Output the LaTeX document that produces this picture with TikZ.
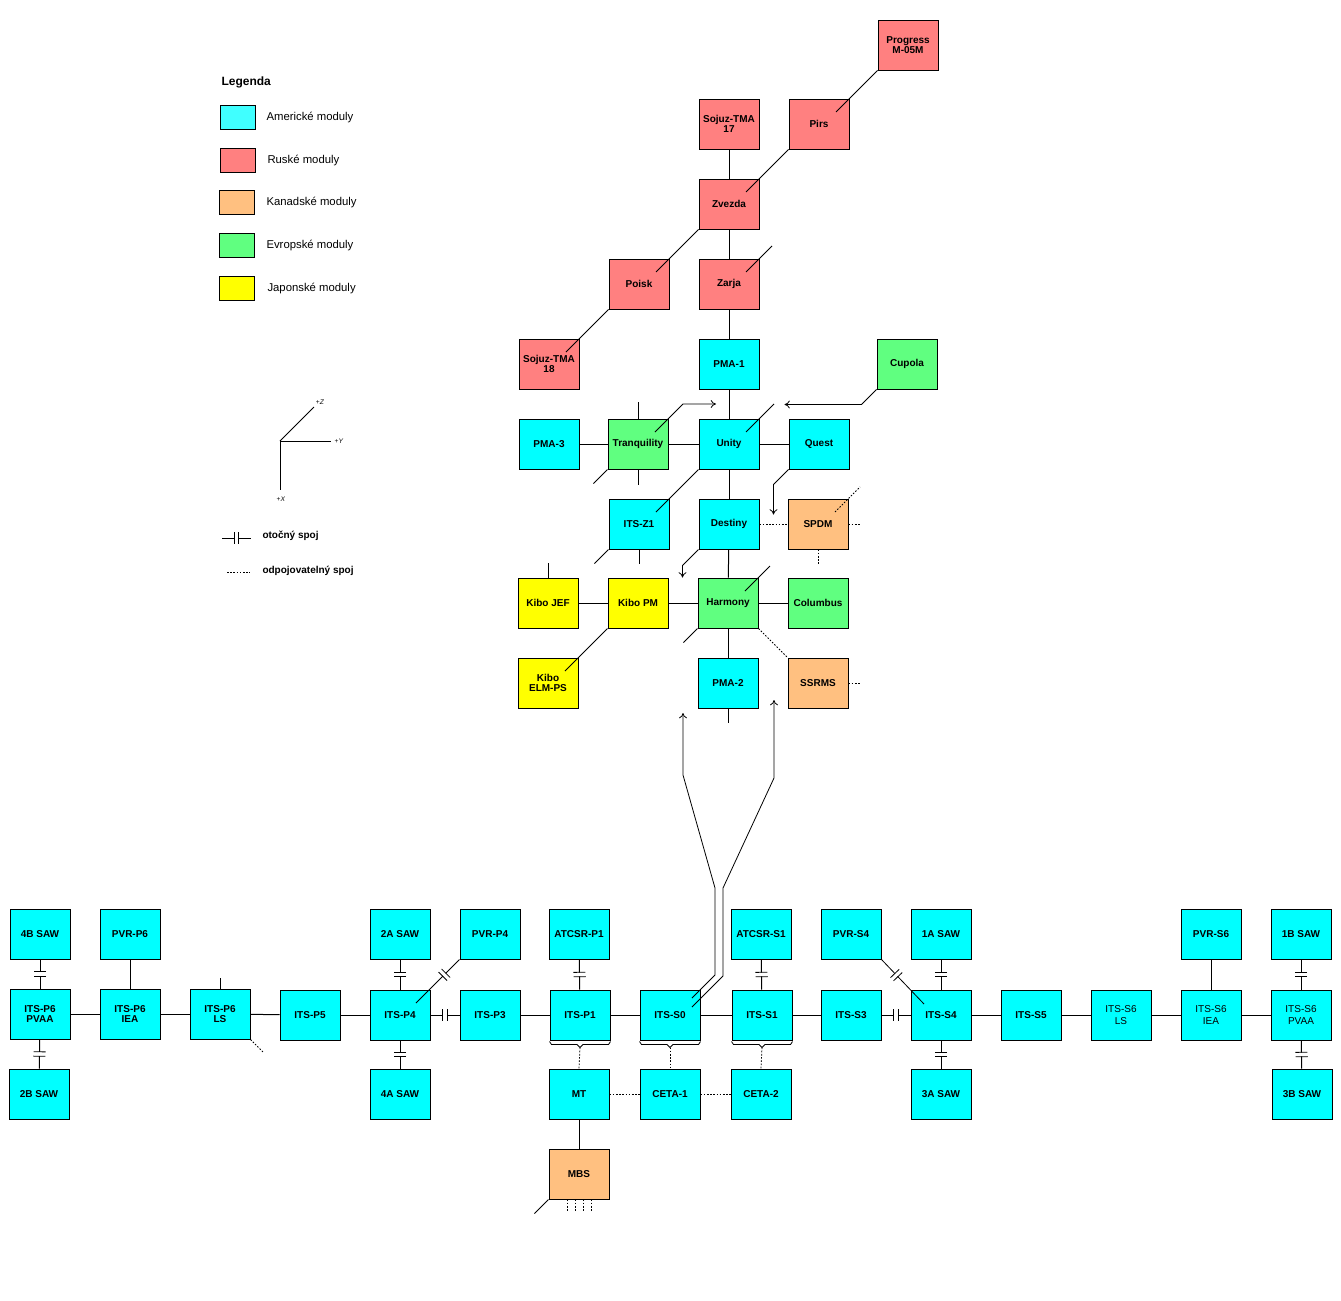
\documentclass[tikz,border=0pt]{standalone}
\usepackage{fontspec}
\setmainfont{Liberation Sans}
\usetikzlibrary{calc,decorations.markings,arrows.meta}
\definecolor{cUS}{HTML}{00FFFF}
\definecolor{cUSl}{HTML}{40FFFF}
\definecolor{cRU}{HTML}{FF8080}
\definecolor{cCA}{HTML}{FFC080}
\definecolor{cEU}{HTML}{60FF80}
\definecolor{cJP}{HTML}{FFFF00}
\tikzset{
  box/.style={draw, line width=0.75pt, minimum width=45pt, minimum height=37.5pt, inner sep=0pt, align=center, font=\bfseries\fontsize{7.5}{8}\selectfont},
  us/.style={box, fill=cUS}, ru/.style={box, fill=cRU}, ca/.style={box, fill=cCA}, eu/.style={box, fill=cEU}, jp/.style={box, fill=cJP},
  thin1/.style={line width=0.6pt},
  dot/.style={line width=0.6pt, dash pattern=on 1.2pt off 1.2pt},
  arr/.style={line width=0.6pt, -{To[length=4pt,width=6pt]}},
  rot/.style={postaction={decorate,decoration={markings,mark=at position #1 with {\fill[white](-1.8,-1.5) rectangle (1.8,1.5);\draw[line width=0.6pt](-2.2,-6)--(-2.2,6)(2.2,-6)--(2.2,6);}}}},
  rot/.default=0.5,
  sw/.style={draw, line width=0.75pt, minimum width=26pt, minimum height=18pt, inner sep=0pt},
  lt/.style={anchor=west, font=\fontsize{8.5}{10}\selectfont, inner sep=0pt},
  lb/.style={anchor=west, font=\bfseries\fontsize{7.5}{9}\selectfont, inner sep=0pt}
}
\begin{document}
\begin{tikzpicture}[x=0.75pt,y=-0.75pt, line width=0.75pt]
\useasboundingbox (0,0) rectangle (1341,1300);
% ---------- legend ----------
\node[lb, font=\bfseries\fontsize{9}{10}\selectfont] (leg) at (221,82) {Legenda};
\node[sw, fill=cUSl] (s1) at (238,117) {}; \node[lt] (t1) at (266,117) {Americké moduly};
\node[sw, fill=cRU] (s2) at (238,160) {}; \node[lt] (t2) at (267,160) {Ruské moduly};
\node[sw, fill=cCA] (s3) at (237,202) {}; \node[lt] (t3) at (266,202) {Kanadské moduly};
\node[sw, fill=cEU] (s4) at (237,245) {}; \node[lt] (t4) at (266,245) {Evropské moduly};
\node[sw, fill=cJP] (s5) at (237,288) {}; \node[lt] (t5) at (267,288) {Japonské moduly};
% axes
\coordinate (o) at (280,441);
\node[inner sep=0pt, font=\fontsize{8.5}{9}\selectfont] (az) at (320,402) {\tiny+\textit{Z}};
\node[inner sep=0pt, font=\fontsize{8.5}{9}\selectfont] (ay) at (339,441) {\tiny+\textit{Y}};
\node[inner sep=0pt, font=\fontsize{8.5}{9}\selectfont] (ax) at (281,499) {\tiny+\textit{X}};
\draw[thin1] (o) -- (314,407);
\draw[thin1] (o) -- (331,441);
\draw[thin1] (o) -- (280,490);
\coordinate (la) at (222,538); \coordinate (lb) at (251,538);
\draw[thin1, rot] (la) -- (lb);
\node[lb] (lt1) at (262,536) {otočný spoj};
\coordinate (lc) at (227,572); \coordinate (ld) at (250,572);
\draw[dot] (lc) -- (ld);
\node[lb] (lt2) at (262,571) {odpojovatelný spoj};
% ---------- upper stack ----------
\node[ru] (prog) at (908,45) {Progress\\M-05M};
\node[ru] (soj17) at (729,124) {Sojuz-TMA\\17};
\node[ru] (pirs) at (819,124) {Pirs};
\node[ru] (zvez) at (729,204) {Zvezda};
\node[ru] (poisk) at (639,284) {Poisk};
\node[ru] (zarja) at (729,284) {Zarja};
\node[ru] (soj18) at (549,364) {Sojuz-TMA\\18};
\node[us] (pma1) at (729,364) {PMA-1};
\node[eu] (cupola) at (907,364) {Cupola};
\node[us] (pma3) at (549,444) {PMA-3};
\node[eu] (tranq) at (638,444) {Tranquility};
\node[us] (unity) at (729,444) {Unity};
\node[us] (quest) at (819,444) {Quest};
\node[us] (z1) at (639,524) {ITS-Z1};
\node[us] (destiny) at (729,524) {Destiny};
\node[ca] (spdm) at (818,524) {SPDM};
\node[jp] (jef) at (548,603) {Kibo JEF};
\node[jp] (kpm) at (638,603) {Kibo PM};
\node[eu] (harm) at (728,603) {Harmony};
\node[eu] (colu) at (818,603) {Columbus};
\node[jp] (elm) at (548,683) {Kibo\\ELM-PS};
\node[us] (pma2) at (728,683) {PMA-2};
\node[ca] (ssrms) at (818,683) {SSRMS};
% connectors upper
\draw[thin1] (prog.south west) -- ($(pirs.center)+(17,-12)$);
\draw[thin1] (pirs.south west) -- ($(zvez.center)+(17,-12)$);
\draw (soj17) -- (zvez);
\draw (zvez) -- (zarja);
\draw[thin1] (zvez.south west) -- ($(poisk.center)+(17,-12)$);
\draw[thin1] (poisk.south west) -- ($(soj18.center)+(17,-12)$);
\draw[thin1] ($(zarja.center)+(17,-12)$) -- ++(26,-26);
\draw (zarja) -- (pma1);
\draw (pma1) -- (unity);
\draw[arr] (cupola.south west) -- ++(-15,15) -- ++(-77,0);
\draw (pma3) -- (tranq);
\draw (tranq) -- (unity);
\draw (unity) -- (quest);
\draw (tranq.north) -- ++(0,-17);
\draw (tranq.south) -- ++(0,15);
\draw[thin1] (tranq.south west) -- ++(-14,14);
\draw[arr] ($(tranq.center)+(17,-12)$) -- ++(28,-28) -- ++(33,0);
\draw[thin1] ($(unity.center)+(17,-12)$) -- ++(28,-28);
\draw[thin1] (unity.south west) -- ($(z1.center)+(17,-12)$);
\draw[arr] (quest.south west) -- ++(-15,15) -- ++(0,30);
\draw[thin1] (z1.south west) -- ++(-14,14);
\draw (z1.south) -- ++(0,14);
\draw (unity) -- (destiny);
\draw[dot] (destiny) -- (spdm);
\draw[dot] ($(spdm.center)+(17,-12)$) -- ++(25,-25);
\draw[dot] (spdm.east) -- ++(12,0);
\draw[dot] (spdm.south) -- ++(0,14);
\draw[arr] (destiny.south west) -- ++(-16,16) -- ++(0,12);
\draw (destiny) -- (harm);
\draw (jef.north) -- ++(0,-15);
\draw (jef) -- (kpm);
\draw (kpm) -- (harm);
\draw (harm) -- (colu);
\draw[thin1] (kpm.south west) -- ($(elm.center)+(17,-12)$);
\draw[thin1] ($(harm.center)+(17,-12)$) -- ++(25,-25);
\draw[thin1] (harm.south west) -- ++(-14,14);
\draw[dot] (harm.south east) -- (ssrms.north west);
\draw (harm) -- (pma2);
\draw (pma2.south) -- ++(0,14);
\draw[dot] (ssrms.east) -- ++(12,0);
% ---------- truss ----------
\node[us] (saw4b) at (40,934) {4B SAW};
\node[us] (pvrp6) at (130,934) {PVR-P6};
\node[us] (saw2a) at (400,934) {2A SAW};
\node[us] (pvrp4) at (490,934) {PVR-P4};
\node[us] (atp1) at (579,934) {ATCSR-P1};
\node[us] (ats1) at (761,934) {ATCSR-S1};
\node[us] (pvrs4) at (851,934) {PVR-S4};
\node[us] (saw1a) at (941,934) {1A SAW};
\node[us] (pvrs6) at (1211,934) {PVR-S6};
\node[us] (saw1b) at (1301,934) {1B SAW};
\node[us] (p6pvaa) at (40,1014) {ITS-P6\\PVAA};
\node[us] (p6iea) at (130,1014) {ITS-P6\\IEA};
\node[us] (p6ls) at (220,1014) {ITS-P6\\LS};
\node[us] (p5) at (310,1015) {ITS-P5};
\node[us] (p4) at (400,1015) {ITS-P4};
\node[us] (p3) at (490,1015) {ITS-P3};
\node[us] (p1) at (580,1015) {ITS-P1};
\node[us] (s0) at (670,1015) {ITS-S0};
\node[us] (s1) at (762,1015) {ITS-S1};
\node[us] (s3) at (851,1015) {ITS-S3};
\node[us] (s4) at (941,1015) {ITS-S4};
\node[us] (s5) at (1031,1015) {ITS-S5};
\node[us, font=\fontsize{7.5}{8.5}\selectfont] (s6ls) at (1121,1015) {ITS-S6\\LS};
\node[us, font=\fontsize{7.5}{8.5}\selectfont] (s6iea) at (1211,1015) {ITS-S6\\IEA};
\node[us, font=\fontsize{7.5}{8.5}\selectfont] (s6pvaa) at (1301,1015) {ITS-S6\\PVAA};
\node[us] (saw2b) at (39,1094) {2B SAW};
\node[us] (saw4a) at (400,1094) {4A SAW};
\node[us] (mt) at (579,1094) {MT};
\node[us] (ceta1) at (670,1094) {CETA-1};
\node[us] (ceta2) at (761,1094) {CETA-2};
\node[us] (saw3a) at (941,1094) {3A SAW};
\node[us] (saw3b) at (1302,1094) {3B SAW};
\node[ca] (mbs) at (579,1174) {MBS};
% truss connectors
\draw[rot] (saw4b) -- (p6pvaa);
\draw[rot] (p6pvaa) -- (saw2b);
\draw (p6pvaa) -- (p6iea);
\draw (pvrp6) -- (p6iea);
\draw (p6iea) -- (p6ls);
\draw (p6ls.north) -- ++(0,-11);
\draw[dot] (p6ls.south east) -- ++(13,13);
\draw (p6ls) -- (p5);
\draw (p5) -- (p4);
\draw[rot] (saw2a) -- (p4);
\draw[rot] (p4) -- (saw4a);
\draw[thin1, rot=0.35] (pvrp4.south west) -- ($(p4.center)+(16,-12)$);
\draw[rot] (p4) -- (p3);
\draw (p3) -- (p1);
\draw[rot] (atp1) -- (p1);
\draw (p1) -- (s0);
\draw (s0) -- (s1);
\draw[rot] (ats1) -- (s1);
\draw (s1) -- (s3);
\draw[rot] (s3) -- (s4);
\draw[thin1, rot=0.35] (pvrs4.south east) -- ($(s4.center)+(-17,-11)$);
\draw[rot] (saw1a) -- (s4);
\draw[rot] (s4) -- (saw3a);
\draw (s4) -- (s5);
\draw (s5) -- (s6ls);
\draw (s6ls) -- (s6iea);
\draw (pvrs6) -- (s6iea);
\draw (s6iea) -- (s6pvaa);
\draw[rot] (saw1b) -- (s6pvaa);
\draw[rot] (s6pvaa) -- (saw3b);
% braces
\foreach \n in {p1,s0,s1}{
  \draw[thin1] ($(\n.south west)+(0,1)$) -- ++(2,3) -- ($(\n.south)+(-3,4)$) -- ++(3,3) coordinate (br\n) -- ++(3,-3) -- ($(\n.south east)+(-2,4)$) -- ++(2,-3);
}
\draw[dot] (brp1) -- (mt.north);
\draw[dot] (brs0) -- (ceta1.north);
\draw[dot] (brs1) -- (ceta2.north);
\draw[dot] (mt) -- (ceta1);
\draw[dot] (ceta1) -- (ceta2);
\draw (mt) -- (mbs);
\draw[thin1] (mbs.south west) -- ++(-14,14);
\foreach \dx in {-12,-4,4,12}{ \draw[dot] ($(mbs.south)+(\dx,0)$) -- ++(0,11); }
% long arrows from ITS-S0
\draw[thin1, -{To[length=4pt,width=6pt]}] ($(s0.center)+(22,-17)$) -- ++(23,-23) -- (715,888) -- (683,775) -- (683,713);
\draw[thin1, -{To[length=4pt,width=6pt]}] ($(s0.center)+(22,-8)$) -- ++(31,-31) -- (723,888) -- (774,778) -- (774,700);
\end{tikzpicture}
\end{document}
